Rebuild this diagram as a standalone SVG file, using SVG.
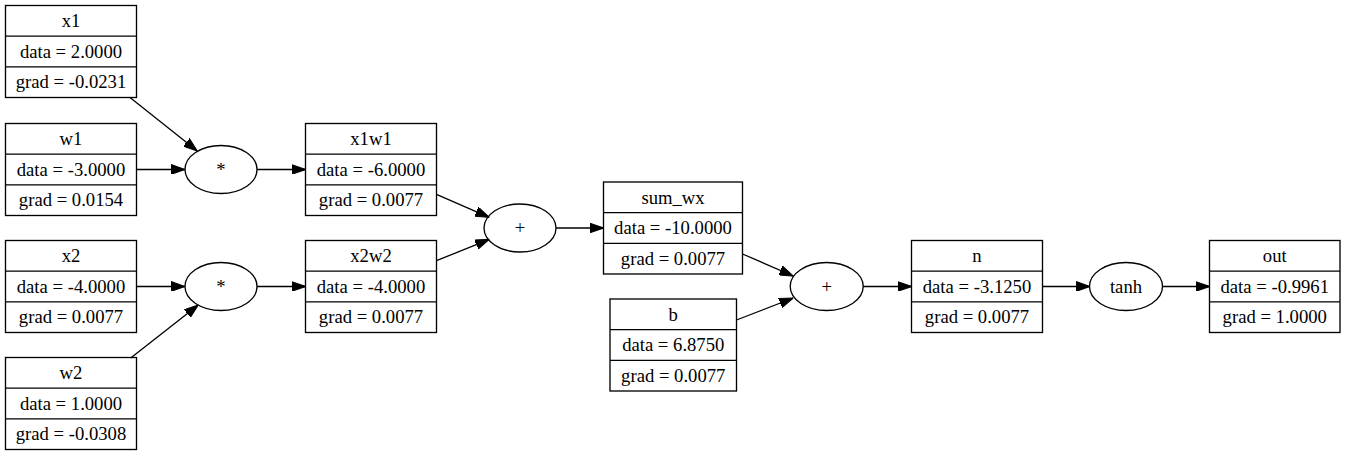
<svg xmlns="http://www.w3.org/2000/svg" width="1345" height="456" viewBox="0 0 1345 456">
<style>
.box{fill:none;stroke:#000;stroke-width:1.33}
.op{fill:none;stroke:#000;stroke-width:1.33}
text{font-family:'Liberation Serif','Tinos','Times New Roman','DejaVu Serif Condensed','DejaVu Serif',serif;font-size:18.67px;text-anchor:middle;fill:#000}
.e{fill:none;stroke:#000;stroke-width:1.33;marker-end:url(#ah)}
</style>
<defs>
<marker id="ah" markerUnits="userSpaceOnUse" markerWidth="14" markerHeight="10" viewBox="0 0 13.33 9.33" refX="13.33" refY="4.67" orient="auto">
<path d="M0,0 L13.33,4.67 L0,9.33 Z" fill="#000" stroke="#000" stroke-width="1"/>
</marker>
</defs>
<rect width="1345" height="456" fill="#fff"/>
<g id="connectors">
<path class="e" d="M130,97.5 L197.3,151"/>
<path class="e" d="M136.5,169.5 L185,169.5"/>
<path class="e" d="M257,169.5 L305.5,169.5"/>
<path class="e" d="M136.5,286.5 L185,286.5"/>
<path class="e" d="M130.7,358 L198.3,305"/>
<path class="e" d="M257,286.5 L305.5,286.5"/>
<path class="e" d="M436.5,194.3 L489.3,217.3"/>
<path class="e" d="M436.5,260.7 L489.3,239.3"/>
<path class="e" d="M556,228 L603.5,228"/>
<path class="e" d="M742.5,254 L793.3,276"/>
<path class="e" d="M736.5,320 L793.3,298"/>
<path class="e" d="M863,286.5 L911.5,286.5"/>
<path class="e" d="M1042.5,286.5 L1090,286.5"/>
<path class="e" d="M1162.5,286.5 L1209.5,286.5"/>
</g>
<g id="x1">
<rect class="box" x="5.5" y="5.5" width="131" height="92"/>
<path class="box" d="M5.5,36.17 H136.5 M5.5,66.83 H136.5"/>
<text x="71" y="27">x1</text>
<text x="71" y="57.7">data = 2.0000</text>
<text x="71" y="88.3">grad = -0.0231</text>
</g>
<g id="w1">
<rect class="box" x="5.5" y="123.5" width="131" height="92"/>
<path class="box" d="M5.5,154.17 H136.5 M5.5,184.83 H136.5"/>
<text x="71" y="145">w1</text>
<text x="71" y="175.7">data = -3.0000</text>
<text x="71" y="206.3">grad = 0.0154</text>
</g>
<g id="x2">
<rect class="box" x="5.5" y="240.5" width="131" height="92"/>
<path class="box" d="M5.5,271.17 H136.5 M5.5,301.83 H136.5"/>
<text x="71" y="262">x2</text>
<text x="71" y="292.7">data = -4.0000</text>
<text x="71" y="323.3">grad = 0.0077</text>
</g>
<g id="w2">
<rect class="box" x="5.5" y="357.5" width="131" height="92"/>
<path class="box" d="M5.5,388.17 H136.5 M5.5,418.83 H136.5"/>
<text x="71" y="379">w2</text>
<text x="71" y="409.7">data = 1.0000</text>
<text x="71" y="440.3">grad = -0.0308</text>
</g>
<g id="mul1">
<ellipse class="op" cx="221" cy="169.5" rx="36" ry="24"/>
<text x="221" y="175.5">*</text>
</g>
<g id="mul2">
<ellipse class="op" cx="221" cy="286.5" rx="36" ry="24"/>
<text x="221" y="292.5">*</text>
</g>
<g id="x1w1">
<rect class="box" x="305.5" y="123.5" width="131" height="92"/>
<path class="box" d="M305.5,154.17 H436.5 M305.5,184.83 H436.5"/>
<text x="371" y="145">x1w1</text>
<text x="371" y="175.7">data = -6.0000</text>
<text x="371" y="206.3">grad = 0.0077</text>
</g>
<g id="x2w2">
<rect class="box" x="305.5" y="240.5" width="131" height="92"/>
<path class="box" d="M305.5,271.17 H436.5 M305.5,301.83 H436.5"/>
<text x="371" y="262">x2w2</text>
<text x="371" y="292.7">data = -4.0000</text>
<text x="371" y="323.3">grad = 0.0077</text>
</g>
<g id="add1">
<ellipse class="op" cx="520" cy="228" rx="36" ry="24"/>
<text x="520" y="234">+</text>
</g>
<g id="sum_wx">
<rect class="box" x="603.5" y="182" width="139" height="92"/>
<path class="box" d="M603.5,212.67 H742.5 M603.5,243.33 H742.5"/>
<text x="673" y="203.5">sum_wx</text>
<text x="673" y="234.2">data = -10.0000</text>
<text x="673" y="264.8">grad = 0.0077</text>
</g>
<g id="b">
<rect class="box" x="610" y="299" width="126.5" height="92"/>
<path class="box" d="M610,329.67 H736.5 M610,360.33 H736.5"/>
<text x="673.25" y="320.5">b</text>
<text x="673.25" y="351.2">data = 6.8750</text>
<text x="673.25" y="381.8">grad = 0.0077</text>
</g>
<g id="add2">
<ellipse class="op" cx="826.7" cy="286.5" rx="36.5" ry="24"/>
<text x="826.7" y="292.5">+</text>
</g>
<g id="n">
<rect class="box" x="911.5" y="240.5" width="131" height="92"/>
<path class="box" d="M911.5,271.17 H1042.5 M911.5,301.83 H1042.5"/>
<text x="977" y="262">n</text>
<text x="977" y="292.7">data = -3.1250</text>
<text x="977" y="323.3">grad = 0.0077</text>
</g>
<g id="tanh">
<ellipse class="op" cx="1126" cy="286.5" rx="36.5" ry="24"/>
<text x="1126" y="292.5">tanh</text>
</g>
<g id="out">
<rect class="box" x="1209.5" y="240.5" width="130.5" height="92"/>
<path class="box" d="M1209.5,271.17 H1340 M1209.5,301.83 H1340"/>
<text x="1274.75" y="262">out</text>
<text x="1274.75" y="292.7">data = -0.9961</text>
<text x="1274.75" y="323.3">grad = 1.0000</text>
</g>
</svg>
